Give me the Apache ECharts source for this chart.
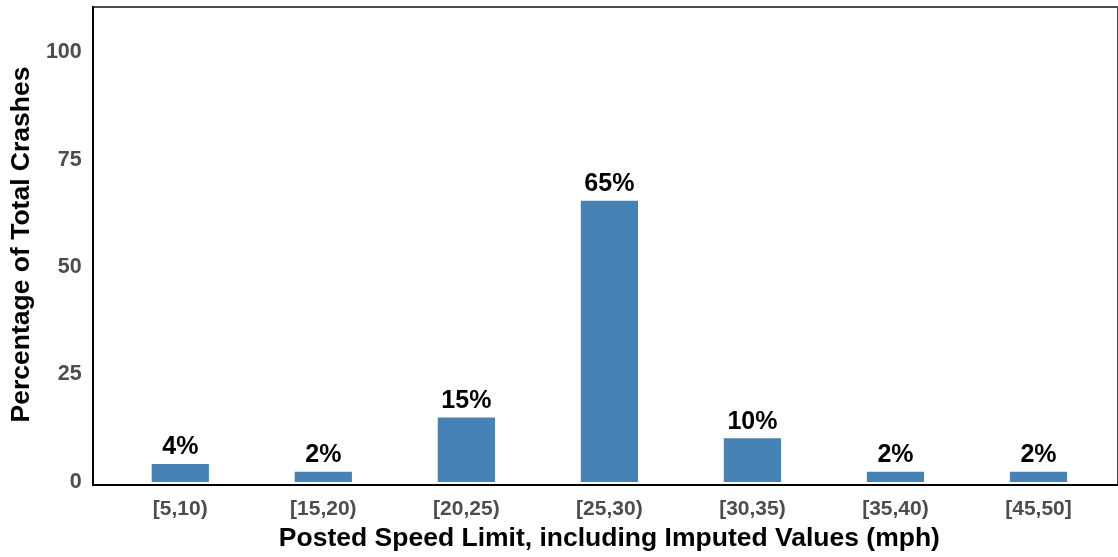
<!DOCTYPE html>
<html>
<head>
<meta charset="utf-8">
<script src="https://cdn.jsdelivr.net/npm/echarts@6/dist/echarts.min.js"></script>
<style>
html,body{margin:0;padding:0;background:#fff;}
#chart{width:1118px;height:557px;}
</style>
</head>
<body>
<div id="chart"></div>
<script>
var categories = ['[5,10)', '[15,20)', '[20,25)', '[25,30)', '[30,35)', '[35,40)', '[45,50]'];
var percentages = [4.2, 2.4, 15.0, 65.4, 10.2, 2.4, 2.4];
var yTicks = [0, 25, 50, 75, 100];

var FONT = 'Liberation Sans, Arial, sans-serif';
var chart = echarts.init(document.getElementById('chart'), null, {renderer: 'canvas'});
chart.setOption({
  animation: false,
  backgroundColor: '#ffffff',
  grid: [
    {left: 105.5, right: 8, top: 7, bottom: 72, containLabel: false},
    {left: 93, right: -4, top: 7, bottom: 72, show: true, borderColor: '#4d4d4d', borderWidth: 2, backgroundColor: 'transparent', z: 0}
  ],
  xAxis: [
    {
      type: 'category', gridIndex: 0, data: categories,
      axisLine: {show: false}, axisTick: {show: false},
      axisLabel: {color: '#4d4d4d', fontWeight: 'bold', fontSize: 21, fontFamily: FONT, margin: 17},
      name: 'Posted Speed Limit, including Imputed Values (mph)',
      nameLocation: 'middle', nameGap: 43,
      nameTextStyle: {color: '#000', fontWeight: 'bold', fontSize: 26.5, fontFamily: FONT}
    },
    {
      type: 'value', gridIndex: 1, min: 0, max: 1,
      axisLine: {show: true, lineStyle: {color: '#000', width: 2}},
      axisTick: {show: false}, axisLabel: {show: false}, splitLine: {show: false}
    }
  ],
  yAxis: [
    {
      type: 'value', gridIndex: 0, min: 0, max: 110.5, interval: 25,
      axisLine: {show: false}, axisTick: {show: false}, splitLine: {show: false},
      axisLabel: {color: '#4d4d4d', fontWeight: 'bold', fontSize: 21.5, fontFamily: FONT, margin: 27,
        showMaxLabel: false,
        formatter: function (v) { return yTicks.indexOf(v) >= 0 ? String(v) : ''; }},
      name: 'Percentage of Total Crashes',
      nameLocation: 'middle', nameGap: 67,
      nameTextStyle: {color: '#000', fontWeight: 'bold', fontSize: 26.5, fontFamily: FONT}
    },
    {
      type: 'value', gridIndex: 1, min: 0, max: 1,
      axisLine: {show: true, lineStyle: {color: '#000', width: 2}},
      axisTick: {show: false}, axisLabel: {show: false}, splitLine: {show: false}
    }
  ],
  series: [{
    type: 'bar',
    xAxisIndex: 0, yAxisIndex: 0,
    data: percentages,
    barWidth: '40%',
    itemStyle: {color: '#4682B4'},
    z: 3,
    label: {
      show: true, position: 'top', distance: 4,
      color: '#000', fontWeight: 'bold', fontSize: 25, fontFamily: FONT,
      formatter: function (p) { return Math.round(p.value) + '%'; }
    }
  }]
});
</script>
</body>
</html>
